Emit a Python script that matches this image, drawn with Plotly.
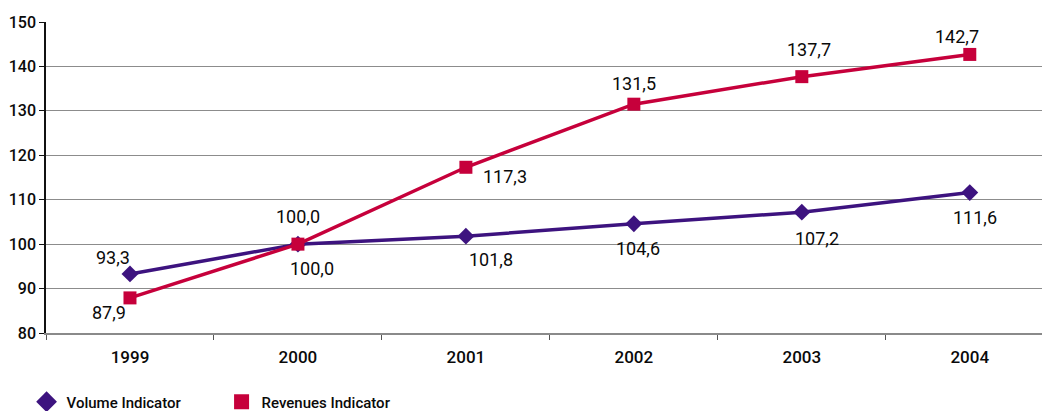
import plotly.graph_objects as go

years = ["1999", "2000", "2001", "2002", "2003", "2004"]
volume = [93.3, 100.0, 101.8, 104.6, 107.2, 111.6]
revenues = [87.9, 100.0, 117.3, 131.5, 137.7, 142.7]
y_ticks = [80, 90, 100, 110, 120, 130, 140, 150]

VOL_COLOR = "#3d137f"
REV_COLOR = "#c6003b"
FONT = "Roboto"

# label offsets in px (dx right, dy down) -- styling only
vol_off = [(-17, -16), (14, 24), (25, 23), (4, 25), (15, 26), (5, 25)]
rev_off = [(-21, 15), (0, -28), (39, 9), (0, -21), (7, -27), (-13, -18)]

fig = go.Figure()
fig.add_trace(go.Scatter(
    x=years, y=volume, name="Volume Indicator", mode="lines+markers",
    line=dict(color=VOL_COLOR, width=3.5),
    marker=dict(symbol="diamond", size=13, color=VOL_COLOR),
    showlegend=False,
))
fig.add_trace(go.Scatter(
    x=years, y=revenues, name="Revenues Indicator", mode="lines+markers",
    line=dict(color=REV_COLOR, width=3.5),
    marker=dict(symbol="square", size=13, color=REV_COLOR),
    showlegend=False,
))
# legend entries (marker only, like the original)
fig.add_trace(go.Scatter(
    x=[None], y=[None], name="Volume Indicator", mode="markers",
    marker=dict(symbol="diamond", size=16, color=VOL_COLOR),
))
fig.add_trace(go.Scatter(
    x=[None], y=[None], name="Revenues Indicator", mode="markers",
    marker=dict(symbol="square", size=15, color=REV_COLOR),
))

def fmt(v):
    return f"{v:.1f}".replace(".", ",")

annots = []
for series, offs in ((volume, vol_off), (revenues, rev_off)):
    for i, (v, (dx, dy)) in enumerate(zip(series, offs)):
        annots.append(dict(
            x=i, y=v, xref="x", yref="y", text=fmt(v), showarrow=False,
            xanchor="center", yanchor="middle", xshift=dx, yshift=-dy,
            font=dict(family=FONT, size=18, color="#0a0a0a"),
        ))

fig.update_layout(
    width=1042, height=411,
    margin=dict(l=46, r=0, t=22, b=78, autoexpand=False),
    paper_bgcolor="white", plot_bgcolor="white",
    showlegend=True,
    legend=dict(
        orientation="h", xref="container", x=0.0255, xanchor="left",
        yref="container", y=0.022, yanchor="middle",
        font=dict(family=FONT, size=15, color="#0a0a0a", weight=500),
        entrywidth=150, entrywidthmode="pixels", itemclick=False,
    ),
    annotations=annots,
    xaxis=dict(
        type="category", range=[-0.5, 5.43],
        showline=True, linecolor="#8a8a8a", linewidth=1.5,
        ticks="outside", tickson="boundaries", ticklen=5, tickcolor="#555555",
        showgrid=False,
        tickfont=dict(family=FONT, size=17, color="#0a0a0a", weight=500),
        ticklabelstandoff=8,
    ),
    yaxis=dict(
        range=[80, 150], tickvals=y_ticks,
        showline=True, linecolor="#111111", linewidth=1.5,
        ticks="outside", ticklen=5, tickcolor="#111111",
        showgrid=True, gridcolor="#8c8c8c", gridwidth=1.3,
        zeroline=False,
        tickfont=dict(family=FONT, size=16, color="#0a0a0a", weight=500),
    ),
    yaxis2=dict(
        range=[80, 150], overlaying="y", tickvals=[90, 110, 130, 150],
        showticklabels=False, ticks="", showline=False,
        showgrid=True, gridcolor="#222222", gridwidth=1.3, zeroline=False,
    ),
)

fig.write_html("out.html")
